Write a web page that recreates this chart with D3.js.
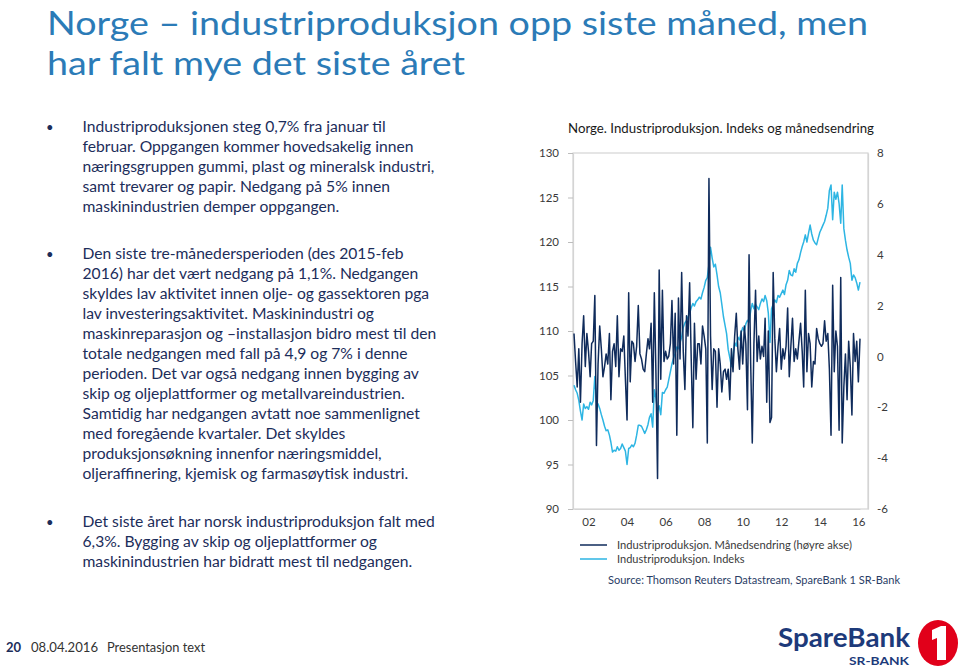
<!DOCTYPE html>
<html><head><meta charset="utf-8">
<script src="https://cdn.jsdelivr.net/npm/d3@7"></script>
<style>body{margin:0;background:#fff}svg{display:block}</style>
</head><body>
<svg id="c" width="960" height="669"></svg>
<script>
// ---------- DATA ----------
const firstMonth = "2001-04";   // first observation
const indexValues = [
 103.9,103.4,103.0,102.2,101.0,100.0,101.8,101.3,101.5,101.2,102.0,101.7,
 102.2,104.9,102.0,101.8,101.3,100.6,100.0,99.3,98.8,98.9,98.3,97.5,
 96.4,96.6,96.5,97.0,96.6,96.8,97.3,96.9,96.5,95.0,96.8,96.9,
 97.2,97.0,97.4,98.3,99.4,99.4,99.3,98.9,98.5,98.9,99.5,100.3,
 100.7,99.2,103.4,102.5,101.0,101.6,100.6,103.1,103.0,103.4,103.7,104.5,
 105.4,106.3,107.0,107.5,108.2,108.0,108.7,109.3,110.4,110.9,111.2,111.6,
 112.0,112.6,113.1,112.8,113.3,113.5,113.8,113.6,114.3,114.9,115.7,116.0,
 117.5,119.4,118.2,117.2,117.5,116.3,115.0,114.3,113.0,111.6,110.6,109.7,
 107.9,107.0,106.0,107.2,108.7,108.3,109.3,109.0,109.8,110.4,110.0,110.8,
 111.2,111.0,112.3,113.1,112.5,113.0,112.7,112.4,113.1,113.6,113.3,114.0,
 113.4,112.0,108.7,112.5,113.0,113.5,113.2,114.0,113.8,114.2,114.6,114.1,
 115.2,115.7,116.8,116.3,116.2,117.0,116.6,117.6,118.0,118.8,119.5,120.0,
 120.8,120.0,121.0,121.9,120.9,120.2,119.9,119.7,120.4,121.1,121.5,121.9,
 122.3,123.0,123.8,125.8,126.4,122.5,125.6,124.8,125.6,124.3,122.1,126.4,
 121.5,120.2,119.1,118.3,117.6,115.7,116.3,116.0,115.4,114.6,115.5
];
const changeValues = [
 0.9,-0.2,-1.2,0.3,-1.8,0.5,1.6,-0.4,0.9,0.2,-0.8,0.5,
 0.6,2.4,-3.5,-0.3,1.2,0.3,-0.8,-0.4,0.1,-0.3,0.9,-1.7,
 0.2,0.5,-0.4,1.6,-0.8,0.3,0.2,0.8,-0.9,-2.5,2.5,-1.0,
 0.6,0.5,-0.2,0.4,2.0,0.1,-0.1,-0.5,-0.6,0.1,0.7,0.3,
 1.3,-1.8,2.5,-0.6,-4.8,3.4,-0.9,2.6,-0.2,0.2,-0.1,0.0,
 0.5,2.2,-0.3,1.7,-3.1,2.3,-0.1,3.3,0.2,-1.3,1.6,0.8,
 2.9,-0.1,-2.8,1.3,-0.9,0.5,0.5,-0.3,1.2,0.8,0.3,-3.4,
 7.0,0.8,-1.3,0.3,0.2,-2.0,0.3,-0.3,-1.4,-0.6,-0.5,-0.9,
 -0.5,-1.7,0.3,-0.6,0.8,1.7,0.3,-0.5,1.0,-0.3,1.2,0.5,
 -2.1,4.0,-0.3,-3.4,0.5,2.6,-0.2,0.8,-0.1,0.4,0.0,1.5,
 -1.8,1.0,-2.6,-2.4,3.3,0.7,-0.6,0.4,1.1,-0.5,0.3,-0.1,
 0.4,1.9,-0.8,0.4,1.5,-0.2,0.3,-0.1,0.6,1.3,0.2,-1.2,
 2.6,-0.6,0.9,0.5,-1.2,-0.2,-0.3,1.1,0.7,0.5,0.4,0.5,
 1.4,0.6,0.9,-0.5,-3.1,2.8,-0.6,1.0,0.4,-2.9,3.1,-3.4,
 -1.2,0.1,-1.7,0.6,-0.4,-2.3,0.9,-0.2,0.6,-1.0,0.7
];
const leftTicks = [90,95,100,105,110,115,120,125,130];
const rightTicks = [-6,-4,-2,0,2,4,6,8];
const xTickYears = [2002,2004,2006,2008,2010,2012,2014,2016];
const seriesNames = ["Industriproduksjon. Månedsendring (høyre akse)", "Industriproduksjon. Indeks"];
const chartTitle = "Norge. Industriproduksjon. Indeks og månedsendring";
const sourceText = "Source: Thomson Reuters Datastream, SpareBank 1 SR-Bank";
const titleLines = ["Norge – industriproduksjon opp siste måned, men", "har falt mye det siste året"];
const bullets = [
 ["Industriproduksjonen steg 0,7% fra januar til",
  "februar. Oppgangen kommer hovedsakelig innen",
  "næringsgruppen gummi, plast og mineralsk industri,",
  "samt trevarer og papir. Nedgang på 5% innen",
  "maskinindustrien demper oppgangen."],
 ["Den siste tre-månedersperioden (des 2015-feb",
  "2016) har det vært nedgang på 1,1%. Nedgangen",
  "skyldes lav aktivitet innen olje- og gassektoren pga",
  "lav investeringsaktivitet. Maskinindustri og",
  "maskinreparasjon og –installasjon bidro mest til den",
  "totale nedgangen med fall på 4,9 og 7% i denne",
  "perioden. Det var også nedgang innen bygging av",
  "skip og oljeplattformer og metallvareindustrien.",
  "Samtidig har nedgangen avtatt noe sammenlignet",
  "med foregående kvartaler. Det skyldes",
  "produksjonsøkning innenfor næringsmiddel,",
  "oljeraffinering, kjemisk og farmasøytisk industri."],
 ["Det siste året har norsk industriproduksjon falt med",
  "6,3%. Bygging av skip og oljeplattformer og",
  "maskinindustrien har bidratt mest til nedgangen."]
];
const footer = {page:"20", date:"08.04.2016", label:"Presentasjon text"};

// ---------- SETUP ----------
const svg = d3.select("#c");
const FONT = "Lato, 'Open Sans', sans-serif";
const NAVY = "#1c2d5a";
const DARK = "#0f2b5b";
const LIGHT = "#2db5e3";

function fit(sel, w){ sel.attr("textLength", w).attr("lengthAdjust","spacingAndGlyphs"); return sel; }

// Title
const tb = [35, 75], tw = [821, 418];
titleLines.forEach((t,i)=>{
  fit(svg.append("text").attr("x",47).attr("y",tb[i]).attr("font-family",FONT)
     .attr("font-size",33).attr("fill","#2b7bb7").text(t), tw[i]);
});

// Bullets
const bg = svg.append("g").attr("font-family",FONT).attr("font-size",14.5).attr("fill",NAVY);
const probe = bg.append("text").text(bullets[0][2]);
const scaleX = 352 / probe.node().getComputedTextLength();
probe.remove();
const pStart = [131.7, 259, 526.7];
bullets.forEach((para,pi)=>{
  bg.append("text").attr("x",46).attr("y",pStart[pi]).attr("font-size",13).text("•");
  para.forEach((ln,li)=>{
    bg.append("text").attr("transform",`translate(82.5,${pStart[pi]+li*20}) scale(${scaleX},1)`).text(ln);
  });
});

// Chart
const parseM = d3.timeParse("%Y-%m");
const t0 = parseM(firstMonth);
const months = d3.range(indexValues.length).map(i=>d3.timeMonth.offset(t0,i));
const x = d3.scaleTime().domain([months[0], months[months.length-1]]).range([574,860]);
const yL = d3.scaleLinear().domain([90,130]).range([509,153]);
const yR = d3.scaleLinear().domain([-6,8]).range([509,153]);
const L = 573, R = 868, T = 153, B = 509;

const g = svg.append("g").attr("font-family",FONT);
g.append("rect").attr("x",L).attr("y",T).attr("width",R-L).attr("height",B-T)
  .attr("fill","none").attr("stroke","#d4d4d4").attr("stroke-width",1.2);

fit(g.append("text").attr("x",568).attr("y",133).attr("font-size",13).attr("fill","#1a1a1a").text(chartTitle),306);

const axL = g.append("g").attr("transform",`translate(${L},0)`)
  .call(d3.axisLeft(yL).tickValues(leftTicks).tickSize(5).tickSizeOuter(0).tickPadding(9));
const axR = g.append("g").attr("transform",`translate(${R},0)`)
  .call(d3.axisRight(yR).tickValues(rightTicks).tickSize(0).tickPadding(9).tickFormat(d3.format("d")));
const axB = g.append("g").attr("transform",`translate(0,${B})`)
  .call(d3.axisBottom(x).tickValues(xTickYears.map(y=>new Date(y,0,1))).tickSize(0).tickPadding(9).tickFormat(d3.timeFormat("%y")));
[axL,axR,axB].forEach(a=>{
  a.select(".domain").attr("stroke","#d4d4d4").attr("stroke-width",1.2);
  a.selectAll(".tick line").attr("stroke","#bdbdbd");
  a.selectAll(".tick text").attr("font-family",FONT).attr("font-size",11.5).attr("fill","#3a3a3a");
});
axR.selectAll(".tick text").text(d=>d<0?"-"+Math.abs(d):d);

const lineIdx = d3.line().x((d,i)=>x(months[i])).y(d=>yL(d));
const lineChg = d3.line().x((d,i)=>x(months[i])).y(d=>yR(d));
g.append("path").datum(indexValues).attr("d",lineIdx).attr("fill","none")
  .attr("stroke",LIGHT).attr("stroke-width",1.5).attr("stroke-linejoin","round");
g.append("path").datum(changeValues).attr("d",lineChg).attr("fill","none")
  .attr("stroke",DARK).attr("stroke-width",1.5).attr("stroke-linejoin","round");

// Legend
const lg = g.append("g");
[[DARK,545,235],[LIGHT,559,null]].forEach((c,i)=>{
  lg.append("line").attr("x1",580).attr("x2",607).attr("y1",c[1]).attr("y2",c[1]).attr("stroke",c[0]).attr("stroke-width",1.5);
  const t = lg.append("text").attr("x",617).attr("y",c[1]+4).attr("font-size",11).attr("fill","#3a3a3a").text(seriesNames[i]);
  if(c[2]) fit(t,c[2]);
});
fit(lg.append("text").attr("x",608).attr("y",584).attr("font-size",11).attr("fill","#2a3d66").text(sourceText),292);

// Footer
const fg = svg.append("g").attr("font-family",FONT).attr("font-size",13).attr("fill",NAVY);
fg.append("text").attr("x",6).attr("y",652).attr("font-weight","bold").text(footer.page);
fit(fg.append("text").attr("x",31).attr("y",652).attr("fill","#333").text(footer.date),67);
fit(fg.append("text").attr("x",107).attr("y",652).attr("fill","#333").text(footer.label),98);

// Logo
const lgo = svg.append("g").attr("font-family",FONT);
fit(lgo.append("text").attr("x",778).attr("y",647).attr("font-size",27).attr("font-weight","bold").attr("fill","#1d3a7a").text("SpareBank"),132);
fit(lgo.append("text").attr("x",849).attr("y",665).attr("font-size",11).attr("font-weight","bold").attr("fill","#1d3a7a").text("SR-BANK"),60);
lgo.append("ellipse").attr("cx",938).attr("cy",643).attr("rx",20).attr("ry",23).attr("fill","#e1001a");
lgo.append("path").attr("fill","#fff")
  .attr("d","M932,630 L941,626 L946,626 L946,660 L937,660 L937,638 L932,640 Z");
</script>
</body></html>
